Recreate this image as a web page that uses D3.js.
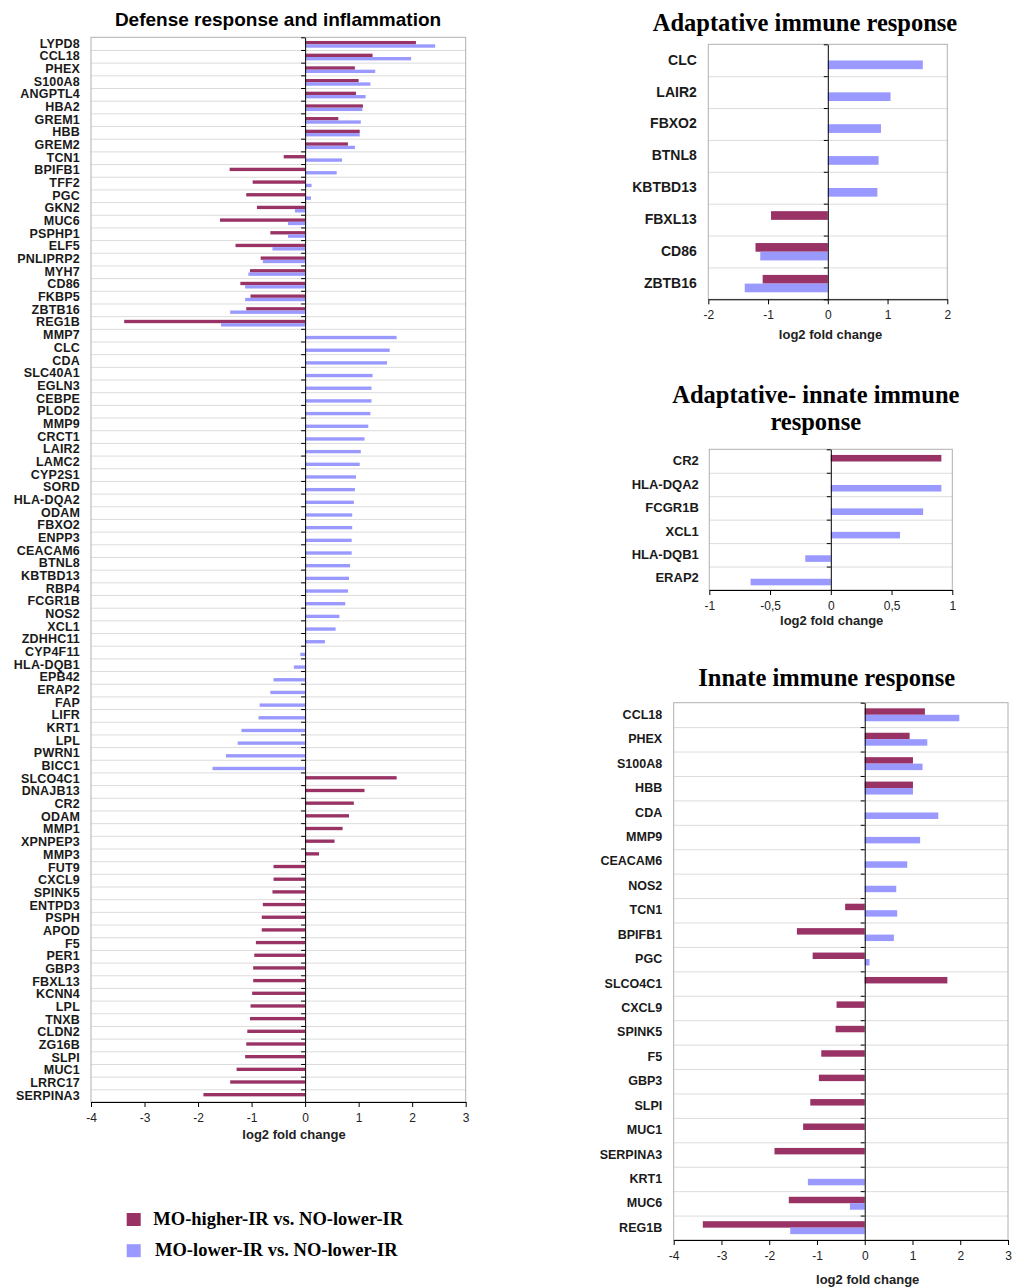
<!DOCTYPE html>
<html>
<head>
<meta charset="utf-8">
<script src="https://cdn.jsdelivr.net/npm/d3@7"></script>
<style>
  body { margin: 0; background: #fff; }
  text { font-family: "Liberation Sans", Arial, sans-serif; }
  text.serif { font-family: "Liberation Serif", "Times New Roman", serif; font-weight: bold; }
</style>
</head>
<body>
<svg id="chart"></svg>
<script>
// series names and colours (higher-IR first, lower-IR second)
let seriesNames = ["MO-higher-IR vs. NO-lower-IR", "MO-lower-IR vs. NO-lower-IR"]
let colors = ["#993366", "#9999ff"]

// Defense response and inflammation (big chart on the left)
let defenseGenes = ["LYPD8","CCL18","PHEX","S100A8","ANGPTL4","HBA2","GREM1","HBB","GREM2","TCN1",
  "BPIFB1","TFF2","PGC","GKN2","MUC6","PSPHP1","ELF5","PNLIPRP2","MYH7","CD86","FKBP5","ZBTB16","REG1B",
  "MMP7","CLC","CDA","SLC40A1","EGLN3","CEBPE","PLOD2","MMP9","CRCT1","LAIR2","LAMC2","CYP2S1","SORD",
  "HLA-DQA2","ODAM","FBXO2","ENPP3","CEACAM6","BTNL8","KBTBD13","RBP4","FCGR1B","NOS2","XCL1","ZDHHC11",
  "CYP4F11","HLA-DQB1","EPB42","ERAP2","FAP","LIFR","KRT1","LPL","PWRN1","BICC1",
  "SLCO4C1","DNAJB13","CR2","ODAM","MMP1","XPNPEP3","MMP3","FUT9","CXCL9","SPINK5","ENTPD3","PSPH","APOD",
  "F5","PER1","GBP3","FBXL13","KCNN4","LPL","TNXB","CLDN2","ZG16B","SLPI","MUC1","LRRC17","SERPINA3"]
let defenseHigher = [2.07,1.26,0.93,1.00,0.95,1.08,0.62,1.02,0.80,-0.40,
  -1.41,-0.98,-1.10,-0.90,-1.59,-0.65,-1.30,-0.83,-1.03,-1.21,-1.02,-1.10,-3.38,
  null,null,null,null,null,null,null,null,null,null,null,null,null,
  null,null,null,null,null,null,null,null,null,null,null,null,
  null,null,null,null,null,null,null,null,null,null,
  1.71,1.11,0.91,0.82,0.70,0.55,0.26,-0.59,-0.59,-0.61,-0.79,-0.81,-0.81,
  -0.92,-0.95,-0.97,-0.97,-0.99,-1.02,-1.03,-1.08,-1.10,-1.12,-1.28,-1.40,-1.90]
let defenseLower = [2.43,1.98,1.31,1.22,1.13,1.07,1.04,1.02,0.93,0.69,
  0.59,0.12,0.11,-0.19,-0.32,-0.32,-0.61,-0.79,-1.06,-1.12,-1.12,-1.40,-1.57,
  1.71,1.58,1.53,1.26,1.24,1.24,1.22,1.18,1.11,1.04,1.02,0.95,0.93,
  0.91,0.88,0.88,0.87,0.87,0.84,0.82,0.80,0.75,0.64,0.57,0.37,
  -0.09,-0.21,-0.59,-0.65,-0.85,-0.87,-1.19,-1.26,-1.48,-1.73,
  null,null,null,null,null,null,null,null,null,null,null,null,null,
  null,null,null,null,null,null,null,null,null,null,null,null,null]
let defenseTicks = [-4,-3,-2,-1,0,1,2,3]

// Adaptative immune response
let adaptiveGenes = ["CLC","LAIR2","FBXO2","BTNL8","KBTBD13","FBXL13","CD86","ZBTB16"]
let adaptiveHigher = [null,null,null,null,null,-0.95,-1.21,-1.09]
let adaptiveLower = [1.59,1.05,0.89,0.85,0.83,null,-1.13,-1.39]
let adaptiveTicks = [-2,-1,0,1,2]

// Adaptative- innate immune response
let mixedGenes = ["CR2","HLA-DQA2","FCGR1B","XCL1","HLA-DQB1","ERAP2"]
let mixedHigher = [0.91,null,null,null,null,null]
let mixedLower = [null,0.91,0.76,0.57,-0.21,-0.66]
let mixedTicks = [-1,-0.5,0,0.5,1]

// Innate immune response
let innateGenes = ["CCL18","PHEX","S100A8","HBB","CDA","MMP9","CEACAM6","NOS2","TCN1","BPIFB1","PGC",
  "SLCO4C1","CXCL9","SPINK5","F5","GBP3","SLPI","MUC1","SERPINA3","KRT1","MUC6","REG1B"]
let innateHigher = [1.26,0.94,1.01,1.01,null,null,null,null,-0.41,-1.42,-1.09,
  1.73,-0.59,-0.61,-0.91,-0.96,-1.14,-1.29,-1.89,null,-1.59,-3.39]
let innateLower = [1.98,1.31,1.21,1.01,1.54,1.16,0.89,0.66,0.68,0.61,0.10,
  null,null,null,null,null,null,null,null,-1.19,-0.31,-1.56]
let innateTicks = [-4,-3,-2,-1,0,1,2,3]

let width = 1024
let height = 1288

let svg = d3.select("#chart")
  .attr("width", width)
  .attr("height", height)

// comma decimals like the original (-0,5)
let commaFormat = d => String(d).replace(".", ",")

let drawChart = function(c) {
  let n = c.genes.length
  let x = d3.scaleLinear().domain(c.domain).range([c.left, c.right])
  let yBand = d3.scaleBand().domain(d3.range(n)).range([c.top, c.bottom])
  let yEdge = d3.scaleLinear().domain([0, n]).range([c.top, c.bottom]) // band boundaries
  let bw = yBand.bandwidth()
  let sub = d3.scaleBand().domain([0, 1]).range([c.barFrom * bw, c.barTo * bw])

  let g = svg.append("g")

  // horizontal gridlines between categories
  g.append("g")
    .attr("transform", "translate(" + c.left + ",0)")
    .call(d3.axisLeft(yEdge).tickValues(d3.range(1, n)).tickSize(-(c.right - c.left)).tickFormat(""))
    .call(s => s.select(".domain").remove())
    .selectAll("line").attr("stroke", "#dcdcdc")

  // plot frame
  g.append("rect")
    .attr("x", c.left).attr("y", c.top)
    .attr("width", c.right - c.left).attr("height", c.bottom - c.top)
    .attr("fill", "none").attr("stroke", "#b0b0b0")

  // bars: one per series per gene, skip the empty ones
  let bars = []
  c.genes.forEach((gene, i) => {
    if (c.higher[i] != null) bars.push({ i: i, s: 0, v: c.higher[i] })
    if (c.lower[i] != null) bars.push({ i: i, s: 1, v: c.lower[i] })
  })

  g.selectAll("rect.bar")
    .data(bars)
    .enter()
    .append("rect")
    .attr("class", "bar")
    .attr("x", d => x(Math.min(0, d.v)))
    .attr("width", d => Math.abs(x(d.v) - x(0)))
    .attr("y", d => yBand(d.i) + sub(d.s))
    .attr("height", sub.bandwidth())
    .attr("fill", d => colors[d.s])

  // category axis sitting on zero, ticks at band edges
  g.append("g")
    .attr("transform", "translate(" + x(0) + ",0)")
    .call(d3.axisLeft(yEdge).tickValues(d3.range(n + 1)).tickSize(4).tickSizeOuter(0).tickFormat(""))
    .call(s => s.selectAll("line, path").attr("stroke", "#000"))

  // gene labels on the left of the plot
  g.append("g")
    .attr("transform", "translate(" + (c.left - c.labelGap) + ",0)")
    .call(d3.axisLeft(yBand).tickSize(0).tickPadding(0).tickFormat(i => c.genes[i]))
    .call(s => s.select(".domain").remove())
    .selectAll("text")
    .attr("font-size", c.labelSize)
    .attr("font-weight", "bold")
    .attr("letter-spacing", c.labelSpacing)
    .attr("fill", "#1a1a1a")

  // value axis
  g.append("g")
    .attr("transform", "translate(0," + c.bottom + ")")
    .call(d3.axisBottom(x).tickValues(c.ticks).tickSize(5).tickSizeOuter(0).tickPadding(6).tickFormat(commaFormat))
    .call(s => s.selectAll("line, path").attr("stroke", "#000"))
    .selectAll("text")
    .attr("font-size", 12)
    .attr("fill", "#222")

  g.append("text")
    .attr("x", c.axisLabelX)
    .attr("y", c.axisLabelY)
    .attr("text-anchor", "middle")
    .attr("font-size", 13)
    .attr("font-weight", "bold")
    .attr("fill", "#222")
    .text("log2 fold change")

  // title (one or more lines)
  c.title.forEach((line, k) => {
    g.append("text")
      .attr("class", c.serif ? "serif" : null)
      .attr("x", c.titleX)
      .attr("y", c.titleY + k * c.titleStep)
      .attr("text-anchor", "middle")
      .attr("font-size", c.titleSize)
      .attr("font-weight", "bold")
      .attr("fill", "#000")
      .text(line)
  })
}

drawChart({
  genes: defenseGenes, higher: defenseHigher, lower: defenseLower,
  domain: [-4, 3], ticks: defenseTicks,
  left: 91, right: 465.7, top: 37.3, bottom: 1102,
  barFrom: 0.29, barTo: 0.82,
  labelGap: 11, labelSize: 12.5, labelSpacing: 0.2,
  axisLabelX: 294, axisLabelY: 1139,
  title: ["Defense response and inflammation"], serif: false,
  titleX: 278, titleY: 26, titleSize: 19, titleStep: 0
})

drawChart({
  genes: adaptiveGenes, higher: adaptiveHigher, lower: adaptiveLower,
  domain: [-2, 2], ticks: adaptiveTicks,
  left: 708.3, right: 947.3, top: 44.3, bottom: 299.3,
  barFrom: 0.235, barTo: 0.78,
  labelGap: 11.5, labelSize: 14, labelSpacing: 0,
  axisLabelX: 830.5, axisLabelY: 338.5,
  title: ["Adaptative immune response"], serif: true,
  titleX: 805, titleY: 30.5, titleSize: 24.5, titleStep: 0
})

drawChart({
  genes: mixedGenes, higher: mixedHigher, lower: mixedLower,
  domain: [-1, 1], ticks: mixedTicks,
  left: 709.3, right: 952.3, top: 449.3, bottom: 590,
  barFrom: 0.24, barTo: 0.8,
  labelGap: 10.5, labelSize: 13, labelSpacing: 0,
  axisLabelX: 831.7, axisLabelY: 625,
  title: ["Adaptative- innate immune", "response"], serif: true,
  titleX: 815.8, titleY: 403.3, titleSize: 24.5, titleStep: 26.2
})

drawChart({
  genes: innateGenes, higher: innateHigher, lower: innateLower,
  domain: [-4, 3], ticks: innateTicks,
  left: 673.7, right: 1008, top: 702.7, bottom: 1240,
  barFrom: 0.23, barTo: 0.76,
  labelGap: 11.5, labelSize: 12.5, labelSpacing: 0,
  axisLabelX: 867.7, axisLabelY: 1283.5,
  title: ["Innate immune response"], serif: true,
  titleX: 826.7, titleY: 686, titleSize: 24.5, titleStep: 0
})

// legend below the big chart
let legend = svg.append("g")
  .selectAll("g")
  .data(seriesNames)
  .enter()
  .append("g")
  .attr("transform", (d, i) => "translate(126.7," + (1213 + i * 31.2) + ")")

legend.append("rect")
  .attr("width", 14)
  .attr("height", 13)
  .attr("fill", (d, i) => colors[i])

legend.append("text")
  .attr("class", "serif")
  .attr("x", (d, i) => 26.6 + i * 1.7)
  .attr("y", 12)
  .attr("font-size", 18.5)
  .attr("fill", "#000")
  .text(d => d)
</script>
</body>
</html>
